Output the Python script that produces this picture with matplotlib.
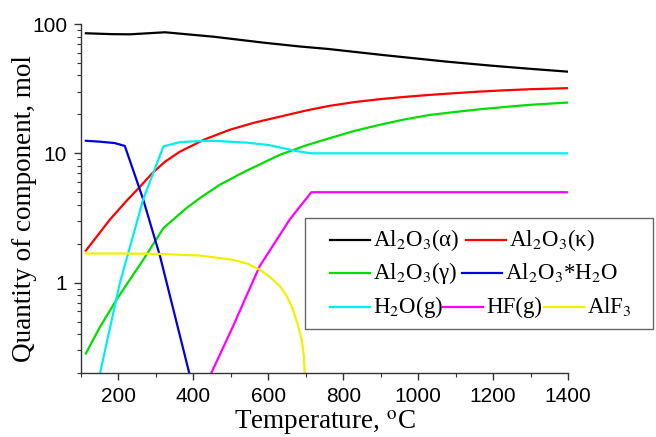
import matplotlib
matplotlib.use('Agg')
import matplotlib.pyplot as plt
from matplotlib.lines import Line2D
from matplotlib.patches import Rectangle

plt.rcParams['font.family'] = 'Liberation Serif'
plt.rcParams['mathtext.fontset'] = 'stix'

# data (temperature in C, quantity in mol)
black_T = [113, 180, 231, 324, 453, 586, 684, 760, 905, 1075, 1200, 1300, 1400]
black = [84.8, 83.5, 83.2, 86.3, 79.8, 71.8, 67, 64.1, 57.6, 51.2, 47.5, 45, 42.8]

red_T = [113, 150, 177, 222, 257, 290, 324, 364, 430, 497, 564, 631, 700, 764, 830, 897, 964, 1031,
         1100, 1164, 1230, 1297, 1400]
red = [1.77, 2.43, 3.07, 4.3, 5.5, 7.0, 8.6, 10.3, 12.8, 15.2, 17.3, 19.2, 21.4, 23.3, 24.9, 26.2, 27.3, 28.3,
       29.2, 30.0, 30.7, 31.3, 31.9]

green_T = [113, 150, 195, 230, 266, 300, 320, 346, 380, 417, 470, 524, 551, 631, 700, 764, 830, 897, 964,
           1031, 1100, 1164, 1230, 1297, 1400]
green = [0.283, 0.45, 0.74, 1.05, 1.5, 2.14, 2.64, 3.07, 3.74, 4.5, 5.7, 6.9, 7.55, 9.74, 11.5, 13.1, 14.9, 16.6, 18.3,
         19.8, 20.9, 21.9, 22.8, 23.7, 24.7]

blue_T = [113, 150, 190, 217, 240, 266, 290, 311, 350, 395]
blue = [12.5, 12.3, 12.0, 11.4, 7.3, 4.4, 2.56, 1.6, 0.565, 0.17]

cyan_T = [151, 175, 204, 235, 266, 295, 320, 364, 408, 453, 542, 600, 631, 675, 715, 800, 1000, 1200, 1400]
cyan = [0.2, 0.415, 1.0, 2.09, 4.4, 7.3, 11.3, 12.2, 12.4, 12.5, 12.1, 11.6, 11.1, 10.4, 10.0, 10.0, 10.0, 10.0, 10.0]

magenta_T = [448, 480, 506, 540, 577, 620, 657, 690, 715, 800, 1000, 1200, 1400]
magenta = [0.2, 0.317, 0.46, 0.77, 1.34, 2.09, 3.07, 4.06, 5.0, 5.0, 5.0, 5.0, 5.0]

yellow_T = [113, 200, 300, 417, 506, 545, 577, 605, 631, 650, 666, 680, 689, 695, 699]
yellow = [1.68, 1.68, 1.67, 1.62, 1.5, 1.4, 1.26, 1.1, 0.94, 0.78, 0.62, 0.46, 0.36, 0.27, 0.15]

labels = [r'Al$_2$O$_3$(α)', r'Al$_2$O$_3$(κ)', r'Al$_2$O$_3$(γ)',
          r'Al$_2$O$_3$*H$_2$O', r'H$_2$O(g)', 'HF(g)', r'AlF$_3$']
colors = ['black', '#ff0000', '#00dd00', '#0000dd', '#00eeee', '#ff00ff', '#f0f000']

series = [(black_T, black), (red_T, red), (green_T, green), (blue_T, blue),
          (cyan_T, cyan), (magenta_T, magenta), (yellow_T, yellow)]

W, H = 656, 437
fig = plt.figure(figsize=(W / 100, H / 100), dpi=100)
ax = fig.add_axes([81 / W, 1 - 373 / H, (568 - 81) / W, (373 - 24) / H])

for (t, q), c in zip(series, colors):
    ax.plot(t, q, color=c, linewidth=1.6)

ax.set_yscale('log')
ax.set_xlim(100, 1400)
ax.set_ylim(0.2, 100)
ax.set_xticks([200, 400, 600, 800, 1000, 1200, 1400])
ax.set_xticks(range(100, 1401, 100), minor=True)
ax.set_yticks([1, 10, 100])
ax.set_yticklabels(['1', '10', '100'])

for s in ['top', 'right']:
    ax.spines[s].set_visible(False)
for s in ['left', 'bottom']:
    ax.spines[s].set_color('#333333')
    ax.spines[s].set_linewidth(1.0)

ax.tick_params(which='both', direction='out', color='#333333')
ax.tick_params(which='major', length=5, width=1.0, labelsize=15, pad=5)
ax.tick_params(which='minor', length=3, width=0.8)
ax.tick_params(axis='y', which='minor', labelleft=False)
for lab in ax.get_xticklabels() + ax.get_yticklabels():
    lab.set_family('Liberation Sans')

ax.set_xlabel(r'Temperature, $^{\mathrm{o}}$C', fontsize=19.5, labelpad=2)
ax.set_ylabel('Quantity of component, mol', fontsize=19.5)
ax.yaxis.set_label_coords(-0.09, 0.47)

# legend drawn by hand: entries flow in rows like the original
fig.patches.append(Rectangle((305 / W, 1 - 329 / H), (653 - 305) / W, (329 - 218) / H,
                             transform=fig.transFigure, fill=False,
                             edgecolor='#666666', linewidth=1.0))
rows = [[(0, 330), (1, 466)], [(2, 330), (3, 462)], [(4, 330), (5, 443), (6, 544)]]
row_y = [240, 273, 307]
for row, y in zip(rows, row_y):
    for i, x0 in row:
        fig.lines.append(Line2D([x0 / W, (x0 + 40) / W], [1 - y / H, 1 - y / H],
                                transform=fig.transFigure, color=colors[i], linewidth=1.6))
        fig.text((x0 + 43) / W, 1 - (y + 6) / H, labels[i], fontsize=16.5, va='baseline')

fig.savefig('out.png', dpi=100)
